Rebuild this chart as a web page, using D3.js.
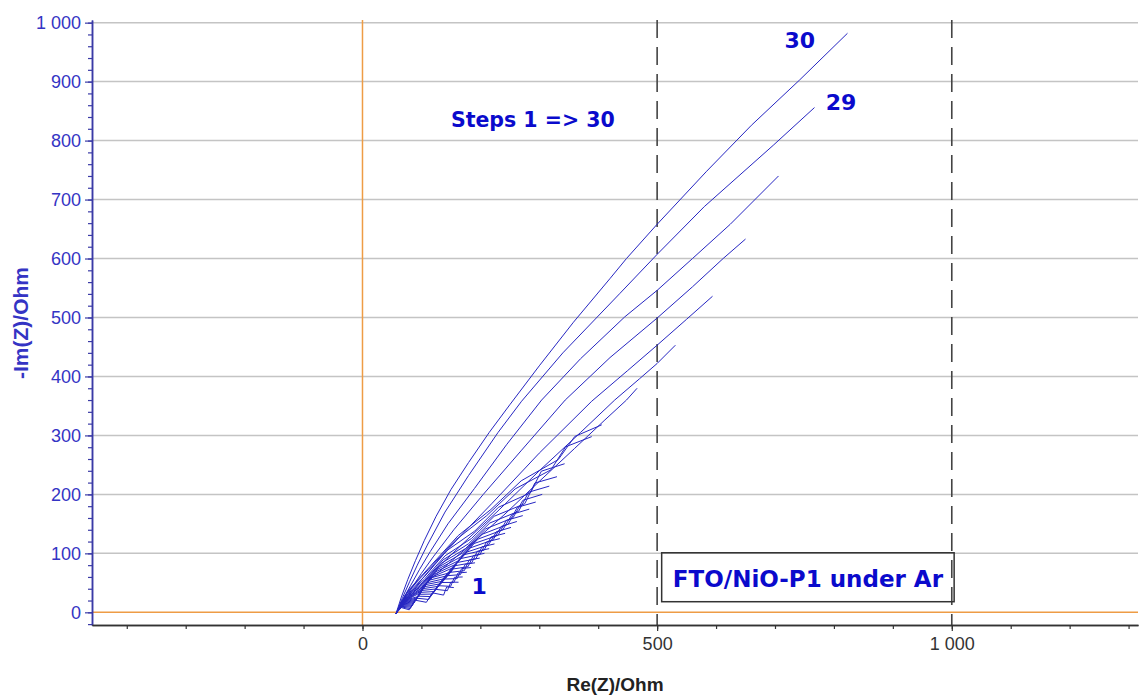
<!DOCTYPE html>
<html><head><meta charset="utf-8">
<script src="https://cdn.jsdelivr.net/npm/d3@7"></script>
<style>html,body{margin:0;padding:0;background:#fff;} svg{display:block;}</style>
</head><body>
<svg id="chart" width="1140" height="695"></svg>
<script>
// ---------- data ----------
const steps = [1,2,3,4,5,6,7,8,9,10,11,12,13,14,15,16,17,18,19,20,21,22,23,24,25,26,27,28,29,30];
const reValues = [
 [57,63.3,79.3,89.2,108.4,118.4,137.6,142.9,155],
 [57,63.7,80.9,91.7,112.3,123.3,144.0,149.9,163],
 [57,64.0,82.2,93.8,115.7,127.6,149.6,156.0,170],
 [57,64.4,83.4,96.0,119.0,131.8,155.1,162.1,177],
 [57,64.6,84.7,98.0,122.4,136.0,160.7,168.2,184],
 [57,65.0,85.9,100.1,125.7,140.2,166.2,174.3,191],
 [57,65.0,87.6,102.1,129.8,144.7,172.8,180.9,199],
 [57,65.4,88.9,104.5,133.5,149.5,179.1,188.0,207],
 [57,65.7,90.3,106.7,137.2,154.2,185.4,194.9,215],
 [57,66.2,91.7,109.4,141.3,159.7,192.3,202.8,224],
 [57,66.5,93.2,111.9,145.5,165.0,199.4,210.6,233],
 [57,66.8,94.7,114.4,149.6,170.2,206.4,218.3,242],
 [57,68.7,94.8,118.6,152.6,177.6,213.8,227.3,252],
 [57,69.1,96.2,121.4,157.0,183.5,221.5,236.0,262],
 [57,69.6,97.6,124.2,161.4,189.4,229.7,244.2,272],
 [57,70.4,98.9,127.6,165.9,196.2,238.1,253.8,283],
 [57,71.1,100.0,130.9,170.2,202.9,247.1,262.7,294],
 [57,71.5,101.4,133.8,174.9,209.2,255.4,272.2,305],
 [57,71.9,102.9,136.9,179.9,216.1,265.0,281.9,317],
 [57,72.3,104.4,140.2,185.2,223.5,275.4,292.5,330],
 [57,72.5,105.7,143.2,190.3,230.6,285.1,303.5,343],
 [57,75.7,112.1,157.6,210.4,259.1,319.9,344.7,389],
 [57,76.5,114.6,162.5,217.9,269.3,332.2,360.2,406],
 [57,72,90,112,138,180,240,300,360,410,448,466],
 [57,71,88,108,132,172,230,300,370,428,470,500,531],
 [57,70,86,104,126,165,220,300,389,450,500,550,594],
 [57,69,84,100,120,155,205,270,344,420,500,560,612,650],
 [57,68,82,97,115,145,190,245,304,370,445,500,560,624,706],
 [57,68,80,93,110,140,180,230,270,340,437,499,580,697,767],
 [57,66,77,90,105,125,150,180,215,250,300,358,420,448,499,584,660,742,823]
];
const imValues = [
 [-2,8.8,4.3,20.6,17.0,33.1,29.2,43.1,42],
 [-2,9.6,6.4,24.0,21.8,39.1,36.7,51.2,51],
 [-2,10.4,8.6,27.4,26.7,45.2,44.1,59.4,60],
 [-2,11.2,10.5,30.5,31.0,50.6,50.7,66.7,68],
 [-2,12.2,12.3,33.8,35.3,56.3,57.2,74.1,76],
 [-2,13.0,14.3,37.0,39.7,61.8,63.9,81.4,84],
 [-2,13.8,16.4,40.1,44.2,67.3,70.6,88.7,92],
 [-2,14.6,18.4,43.4,48.6,72.9,77.3,96.1,100],
 [-2,15.7,20.3,46.9,53.0,78.6,83.9,103.6,108],
 [-2,16.6,22.4,50.2,57.6,84.3,90.6,111.0,116],
 [-2,17.7,24.6,54.1,62.5,90.8,98.1,119.4,125],
 [-2,18.9,26.9,58.0,67.5,97.3,105.5,127.9,134],
 [-2,18.0,31.5,60.2,75.2,102.4,114.3,136.7,144],
 [-2,19.2,34.2,64.4,80.9,109.5,122.8,146.0,154],
 [-2,20.4,36.9,68.7,86.7,116.7,130.5,156.0,164],
 [-2,21.3,40.3,73.0,93.5,124.2,139.9,166.2,175],
 [-2,22.3,44.0,77.7,100.8,132.3,149.3,178.1,187],
 [-2,23.8,47.4,83.2,108.2,141.6,160.3,190.0,200],
 [-2,25.4,51.2,89.1,116.3,151.5,171.4,203.7,214],
 [-2,27.2,55.5,95.9,125.4,162.9,184.2,219.2,230],
 [-2,29.5,61.0,104.7,137.6,178.1,202.7,239.3,252],
 [-2,33.6,73.0,122.4,163.6,209.3,241.7,280.7,298],
 [-2,35.6,77.8,130.2,174.4,223.0,259.0,298.2,318],
 [-2,15,33,53,76,112,165,222,278,325,360,380],
 [-2,16,35,56,80,118,172,240,305,360,396,422,453],
 [-2,17,38,60,86,128,185,270,358,410,453,497,536],
 [-2,19,42,66,94,140,200,275,360,432,499,552,600,633],
 [-2,21,46,73,103,150,210,285,360,430,501,546,600,658,740],
 [-2,25,52,80,114,170,232,305,358,440,541,606,688,792,856],
 [-2,26,56,88,122,163,208,254,305,352,418,492,566,600,657,748,826,903,982]
];
const xMajorTicks = [0, 500, 1000];
const xMinorTicks = [-400,-300,-200,-100,0,100,200,300,400,500,600,700,800,900,1000,1100,1200,1300];
const yMajorTicks = [0,100,200,300,400,500,600,700,800,900,1000];
const yMinorTicks = [-20,0,20,40,60,80,100,120,140,160,180,200,220,240,260,280,300,320,340,360,380,400,420,440,460,480,500,520,540,560,580,600,620,640,660,680,700,720,740,760,780,800,820,840,860,880,900,920,940,960,980,1000];
const gridLevels = [100,200,300,400,500,600,700,800,900,1000];
const markerLines = [500, 1000];
const xTitle = "Re(Z)/Ohm";
const yTitle = "-Im(Z)/Ohm";
const stepsNote = "Steps 1 => 30";
const boxNote = "FTO/NiO-P1 under Ar";

// ---------- drawing ----------
const svg = d3.select("#chart");
svg.append("rect").attr("width",1140).attr("height",695).attr("fill","#fff");

const x = d3.scaleLinear().domain([-459, 1316]).range([92, 1138]);
const y = d3.scaleLinear().domain([-21.5, 1004.5]).range([625, 20]);
const fmt = d3.formatLocale({decimal:".", thousands:"\u2009", grouping:[3], currency:["",""]}).format(",");
const fmtSp = d => fmt(d).replace("\u2009"," ");

const AX = "Liberation Sans, Arial, sans-serif";
const BOLDF = "DejaVu Sans, Verdana, sans-serif";

// grid
svg.append("g").selectAll("line").data(gridLevels).join("line")
  .attr("x1", x.range()[0]).attr("x2", x.range()[1])
  .attr("y1", d => y(d)).attr("y2", d => y(d))
  .attr("stroke", "#c4c4c4").attr("stroke-width", 1.5);

// orange zero lines
svg.append("line").attr("x1", x.range()[0]).attr("x2", x.range()[1])
  .attr("y1", y(0)).attr("y2", y(0)).attr("stroke", "#ee9c45").attr("stroke-width", 1.5);
svg.append("line").attr("x1", x(0)).attr("x2", x(0))
  .attr("y1", y.range()[1]).attr("y2", y.range()[0]).attr("stroke", "#ee9c45").attr("stroke-width", 1.5);

// dashed marker lines
svg.append("g").selectAll("line").data(markerLines).join("line")
  .attr("x1", d => x(d)).attr("x2", d => x(d))
  .attr("y1", y.range()[1]).attr("y2", y.range()[0])
  .attr("stroke", "#444").attr("stroke-width", 1.6).attr("stroke-dasharray", "18,9");

// curves
const line = d3.line().x(d => x(d[0])).y(d => y(d[1]));
svg.append("g").selectAll("path").data(steps).join("path")
  .attr("d", (s, i) => line(reValues[i].map((r, j) => [r, imValues[i][j]])))
  .attr("fill", "none").attr("stroke", "#2626c2").attr("stroke-width", 1)
  .attr("stroke-linejoin", "round");

// annotation box
const bx0 = 507.7, bx1 = 1004, by0 = 101, by1 = 18;
svg.append("rect").attr("x", x(bx0)).attr("y", y(by0))
  .attr("width", x(bx1) - x(bx0)).attr("height", y(by1) - y(by0))
  .attr("fill", "none").attr("stroke", "#333").attr("stroke-width", 1.5);
svg.append("text").attr("x", (x(bx0) + x(bx1)) / 2).attr("y", y(by1) - 15)
  .attr("text-anchor", "middle").attr("font-family", BOLDF).attr("font-weight", "bold")
  .attr("font-size", 23).attr("fill", "#0a0acc").text(boxNote);

// text labels
svg.append("text").attr("x", x(150)).attr("y", y(823.5))
  .attr("font-family", BOLDF).attr("font-weight", "bold").attr("font-size", 20.5)
  .attr("fill", "#0a0acc").text(stepsNote);
const numLabels = [[steps[29], 742, 969], [steps[28], 812, 865], [steps[0], 198, 44.6]];
svg.append("g").selectAll("text").data(numLabels).join("text")
  .attr("x", d => x(d[1])).attr("y", d => y(d[2]))
  .attr("text-anchor", "middle").attr("dominant-baseline", "central")
  .attr("font-family", BOLDF).attr("font-weight", "bold").attr("font-size", 22)
  .attr("fill", "#0a0acc").text(d => d[0]);

// axes
const yAxisMinor = svg.append("g").attr("transform", `translate(${x.range()[0]},0)`)
  .call(d3.axisLeft(y).tickValues(yMinorTicks).tickSize(4).tickSizeOuter(0).tickFormat(""));
const yAxis = svg.append("g").attr("transform", `translate(${x.range()[0]},0)`)
  .call(d3.axisLeft(y).tickValues(yMajorTicks).tickSize(7).tickPadding(4).tickSizeOuter(0).tickFormat(fmtSp));
[yAxisMinor, yAxis].forEach(g => {
  g.select(".domain").attr("stroke", "#3a3aa6").attr("stroke-width", 1.5);
  g.selectAll(".tick line").attr("stroke", "#3a3aa6").attr("stroke-width", 1.2);
});
yAxis.selectAll("text").attr("font-family", AX).attr("font-size", 18).attr("fill", "#3434c4");

const xAxisMinor = svg.append("g").attr("transform", `translate(0,${y.range()[0]})`)
  .call(d3.axisBottom(x).tickValues(xMinorTicks).tickSize(4).tickSizeOuter(0).tickFormat(""));
const xAxis = svg.append("g").attr("transform", `translate(0,${y.range()[0]})`)
  .call(d3.axisBottom(x).tickValues(xMajorTicks).tickSize(6).tickPadding(6).tickSizeOuter(0).tickFormat(fmtSp));
[xAxisMinor, xAxis].forEach(g => {
  g.select(".domain").attr("stroke", "#333").attr("stroke-width", 1.5);
  g.selectAll(".tick line").attr("stroke", "#333").attr("stroke-width", 1.2);
});
xAxis.selectAll("text").attr("font-family", AX).attr("font-size", 18).attr("fill", "#333");

// axis titles
svg.append("text").attr("x", 615).attr("y", 691)
  .attr("text-anchor", "middle").attr("font-family", AX).attr("font-weight", "bold")
  .attr("font-size", 19).attr("fill", "#222").text(xTitle);
svg.append("text").attr("transform", "translate(28,323) rotate(-90)")
  .attr("text-anchor", "middle").attr("font-family", AX).attr("font-weight", "bold")
  .attr("font-size", 21).attr("fill", "#3434c4").text(yTitle);
</script>
</body></html>
